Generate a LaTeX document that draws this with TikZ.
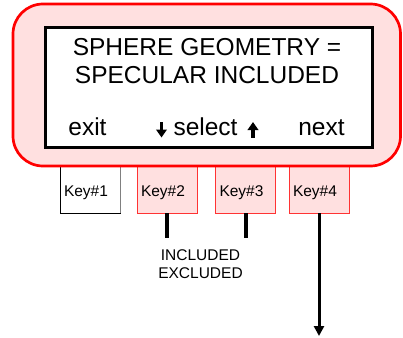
\documentclass[tikz,border=0pt]{standalone}
\usepackage{fontspec}
\setmainfont{Liberation Sans}
\usetikzlibrary{positioning,arrows.meta}
\definecolor{panelpink}{RGB}{255,224,224}
\begin{document}
\begin{tikzpicture}[
    x=1pt, y=-1pt,
    panel/.style={draw=red, line width=2.7pt, fill=panelpink,
                  rounded corners=30pt},
    screen/.style={draw=black, line width=3pt, fill=white},
    lcdtext/.style={font=\fontsize{24.5}{27.3}\selectfont, inner sep=0pt},
    keybox/.style={draw=red!80, fill=panelpink, line width=0.8pt,
                   minimum height=50pt, text width=52pt, inner xsep=4pt,
                   text height=21pt, text depth=4pt,
                   align=left, font=\fontsize{15.5}{18}\selectfont},
    stub/.style={line width=4pt},
    selarrow/.style={-{Triangle[length=8pt,width=10.5pt]}, line width=3.2pt},
    nextarrow/.style={-{Triangle[length=10pt,width=10pt]}, line width=3pt},
]
\useasboundingbox (0,0) rectangle (403,337);

% Keys (drawn first, tucked under the panel)
\node[keybox, draw=black, fill=white] (k1) at (90,188) {Key\#1};
\draw[gray, line width=1.2pt] (k1.north east) -- (k1.south east);
\node[keybox] (k2) at (167,188) {Key\#2};
\node[keybox] (k3) at (245.5,188) {Key\#3};
\node[keybox] (k4) at (319,188) {Key\#4};

% Panel and display
\draw[panel] (13,4) rectangle (400.5,166);
\node[screen, minimum width=327pt, minimum height=119pt] (lcd) at (208.5,87.5) {};

% Display text
\node[lcdtext, anchor=base] (l1) at (207,56) {SPHERE GEOMETRY =};
\node[lcdtext, anchor=base] (l2) at (207,83.3) {SPECULAR INCLUDED};
\node[lcdtext, anchor=base] (exit) at (87.5,135.5) {exit};
\node[lcdtext, anchor=base] (sel) at (205.5,135.5) {select};
\node[lcdtext, anchor=base] (next) at (321.5,135.5) {next};

% Scroll arrows beside "select"
\coordinate (dn1) at (161.5,122);
\coordinate (dn2) at (161.5,137.5);
\coordinate (up1) at (253,137.5);
\coordinate (up2) at (253,122);
\draw[selarrow] (dn1) -- (dn2);
\draw[selarrow] (up1) -- (up2);

% Key actions
\coordinate (s2) at (167,238);
\coordinate (s3) at (245.5,238);
\coordinate (out) at (319,336);
\draw[stub] (k2.south) -- (s2);
\draw[stub] (k3.south) -- (s3);
\draw[nextarrow] (k4.south) -- (out);

\node[align=center, inner sep=0pt, font=\fontsize{15.5}{18}\selectfont]
    (choice) at (200.5,264) {INCLUDED\\EXCLUDED};
\end{tikzpicture}
\end{document}
